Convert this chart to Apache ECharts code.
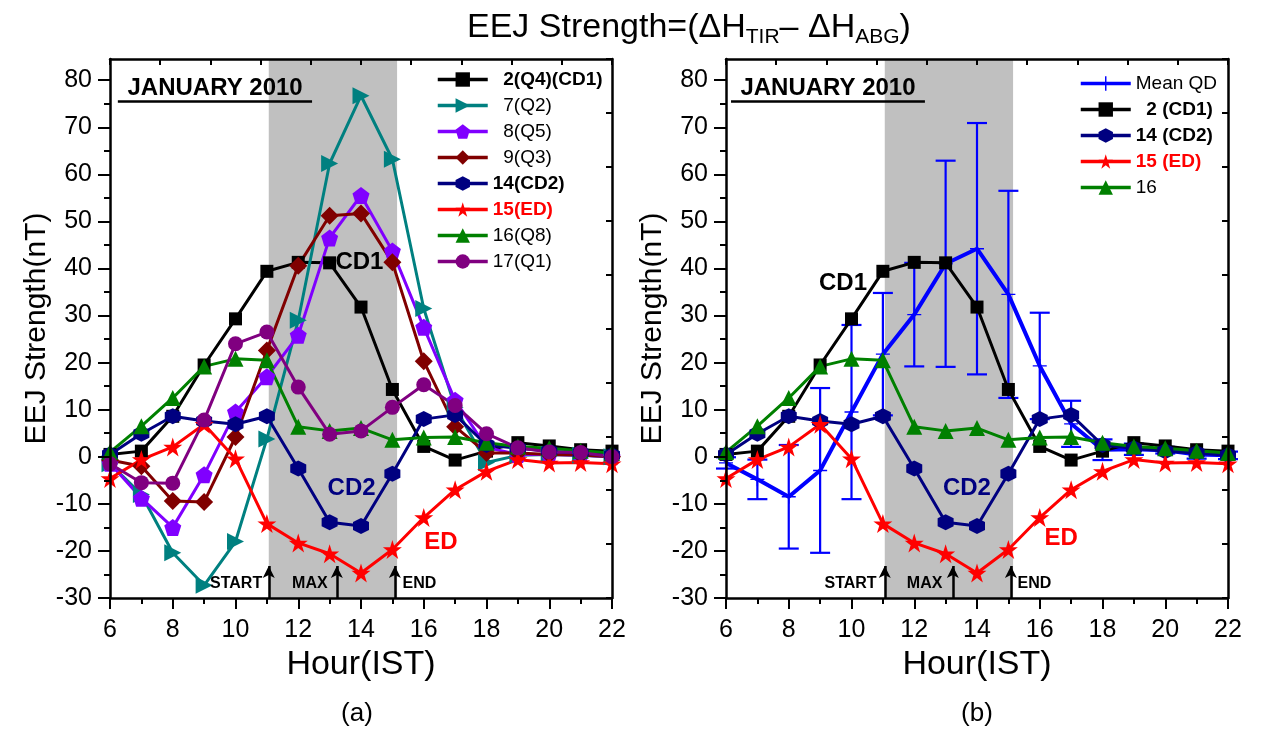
<!DOCTYPE html>
<html><head><meta charset="utf-8">
<script src="https://cdn.jsdelivr.net/npm/echarts@6/dist/echarts.min.js"></script>
<style>html,body{margin:0;padding:0;background:#fff}#c{width:1262px;height:734px}</style>
</head><body><div id="c"></div>
<script>
// ---------- DATA ----------
const hours = [6,7,8,9,10,11,12,13,14,15,16,17,18,19,20,21,22];
const d2  = [0.5, 1.2, 8.6, 19.5, 29.3, 39.4, 41.3, 41.2, 31.8, 14.3, 2.2, -0.7, 1.2, 3.0, 2.3, 1.5, 1.2];
const d7  = [-1.5, -8.0, -20.4, -27.3, -18.0, 3.8, 29.0, 62.3, 76.7, 63.2, 31.5, 10.5, -1.2, 0.3, 0.5, 0.3, 0.0];
const d8  = [-1.4, -8.8, -15.0, -3.8, 9.5, 17.0, 25.8, 46.5, 55.5, 43.7, 27.5, 12.0, 2.0, 0.5, 0.5, 0.3, 0.0];
const d9  = [-0.7, -2.0, -9.4, -9.6, 4.2, 22.6, 40.6, 51.2, 51.7, 41.3, 20.3, 6.4, 0.8, 0.8, 0.5, 0.4, 0.0];
const d14 = [0.5, 4.9, 8.6, 7.6, 6.9, 8.6, -2.5, -13.9, -14.7, -3.6, 8.0, 8.9, 2.5, 1.8, 1.2, 0.8, 0.3];
const d15 = [-4.6, -0.6, 2.1, 6.9, -0.4, -14.2, -18.3, -20.6, -24.7, -19.7, -12.9, -7.0, -3.1, -0.6, -1.3, -1.2, -1.5];
const d16 = [1.0, 6.5, 12.5, 19.2, 20.8, 20.5, 6.4, 5.5, 6.1, 3.6, 4.1, 4.2, 3.0, 2.2, 1.8, 1.3, 0.8];
const d17 = [-1.5, -5.5, -5.6, 7.8, 24.0, 26.5, 14.8, 4.8, 5.5, 10.5, 15.3, 10.9, 4.9, 1.9, 1.0, 0.9, 0.0];
const qdMean = [-1.3, -4.8, -8.5, -2.9, 9.5, 21.8, 30.2, 41.0, 44.2, 34.5, 19.3, 7.0, 1.5, 1.6, 1.4, 0.5, 0.3];
const qdErr  = [1.2, 4.2, 11.0, 17.5, 18.5, 13.0, 11.0, 21.9, 26.7, 22.0, 11.3, 4.9, 2.2, 1.2, 0.7, 0.9, 0.8];
const yMajorTicks = [-30,-20,-10,0,10,20,30,40,50,60,70,80];
const yMinorTicks = [-25,-15,-5,5,15,25,35,45,55,65,75];
const eventTimes = {start: 11.06, max: 13.23, end: 15.08};
const shade = [11.06, 15.15];

// ---------- STYLE HELPERS ----------
const FF = '"Liberation Sans", Arial, Helvetica, sans-serif';
const PENT = 'path://M0,-1 L0.951,-0.309 L0.588,0.809 L-0.588,0.809 L-0.951,-0.309 Z';
const HEX = 'path://M0,-1 L0.866,-0.5 L0.866,0.5 L0,1 L-0.866,0.5 L-0.866,-0.5 Z';
const STAR = 'path://M0,-1 L0.2245,-0.309 L0.951,-0.309 L0.363,0.118 L0.588,0.809 L0,0.382 L-0.588,0.809 L-0.363,0.118 L-0.951,-0.309 L-0.2245,-0.309 Z';
const PLUS = 'path://M-1,-0.1 L1,-0.1 L1,0.1 L-1,0.1 Z M-0.1,-1 L0.1,-1 L0.1,1 L-0.1,1 Z';

const pairs = a => hours.map((h, i) => [h, a[i]]);

function lineSeries(name, data, color, symbol, size, xi, yi, extra) {
  return Object.assign({
    type: 'line', name: name, data: pairs(data), xAxisIndex: xi, yAxisIndex: yi,
    symbol: symbol, symbolSize: size, showAllSymbol: true,
    lineStyle: {color: color, width: 3}, itemStyle: {color: color},
    z: 3
  }, extra || {});
}

function textMark(x, y, text, color, size) {
  return {coord: [x, y], symbol: 'circle', symbolSize: 1, itemStyle: {color: 'rgba(0,0,0,0)'},
    label: {show: true, position: 'inside', formatter: text, color: color, fontSize: size, fontWeight: 'bold', fontFamily: FF}};
}

function panelDecor(cfg) {
  return {
    markArea: {silent: true, itemStyle: {color: '#c0c0c0'}, data: [[{xAxis: shade[0]}, {xAxis: shade[1]}]]},
    markLine: {
      silent: true, animation: false, label: {show: false},
      data: [
        [{coord: [eventTimes.start, -30], symbol: 'none'}, {coord: [eventTimes.start, -23.2], symbol: 'arrow', symbolSize: [9, 12]}],
        [{coord: [eventTimes.max, -30], symbol: 'none'}, {coord: [eventTimes.max, -23.2], symbol: 'arrow', symbolSize: [9, 12]}],
        [{coord: [eventTimes.end, -30], symbol: 'none'}, {coord: [eventTimes.end, -23.2], symbol: 'arrow', symbolSize: [9, 12]}],
        [{coord: [cfg.ulx0, 75.6], symbol: 'none'}, {coord: [cfg.ulx1, 75.6], symbol: 'none'}]
      ],
      lineStyle: {color: '#000', width: 2.5, type: 'solid'}
    },
    markPoint: {
      silent: true, animation: false,
      data: [
        textMark(cfg.janx, 78.3, 'JANUARY 2010', '#000', 24),
        textMark(cfg.startx, -26.9, 'START', '#000', 16),
        textMark(cfg.maxx, -26.9, 'MAX', '#000', 16),
        textMark(cfg.endx, -26.9, 'END', '#000', 16)
      ]
    }
  };
}

function yAxes(grid) {
  return [
    {type: 'value', gridIndex: grid, position: 'left', min: -30, max: 84.5, z: 5,
     axisLine: {show: true, onZero: false, lineStyle: {color: '#000', width: 2.5}},
     axisTick: {show: true, customValues: yMajorTicks, length: 12, lineStyle: {color: '#000', width: 2}},
     axisLabel: {customValues: yMajorTicks, fontSize: 25, color: '#000', fontFamily: FF, margin: 18},
     splitLine: {show: false},
     name: 'EEJ Strength(nT)', nameLocation: 'middle', nameGap: 58,
     nameTextStyle: {fontSize: 30, color: '#000', fontFamily: FF}},
    {type: 'value', gridIndex: grid, position: 'left', offset: 0, min: -30, max: 84.5, z: 5,
     axisLine: {show: false},
     axisTick: {show: true, customValues: yMinorTicks, length: 6, lineStyle: {color: '#000', width: 2}},
     axisLabel: {show: false}, splitLine: {show: false}},
    {type: 'value', gridIndex: grid, position: 'right', min: 0, max: 10, interval: 1, z: 5,
     axisLine: {show: true, lineStyle: {color: '#000', width: 2.5}},
     axisTick: {show: true, inside: true, length: 6, lineStyle: {color: '#000', width: 2}},
     axisLabel: {show: false}, splitLine: {show: false}}
  ];
}
function xAxes(grid) {
  return [
    {type: 'value', gridIndex: grid, position: 'bottom', min: 6, max: 22, interval: 2, z: 5,
     axisLine: {show: true, onZero: false, lineStyle: {color: '#000', width: 2.5}},
     axisTick: {show: true, length: 11, lineStyle: {color: '#000', width: 2}},
     minorTick: {show: true, splitNumber: 2, length: 6, lineStyle: {color: '#000', width: 2}},
     axisLabel: {fontSize: 25, color: '#000', fontFamily: FF, margin: 20},
     splitLine: {show: false},
     name: 'Hour(IST)', nameLocation: 'middle', nameGap: 49,
     nameTextStyle: {fontSize: 34, color: '#000', fontFamily: FF}},
    {type: 'value', gridIndex: grid, position: 'top', min: 0, max: 10, interval: 1, z: 5,
     axisLine: {show: true, onZero: false, lineStyle: {color: '#000', width: 2.5}},
     axisTick: {show: true, inside: true, length: 6, lineStyle: {color: '#000', width: 2}},
     axisLabel: {show: false}, splitLine: {show: false}}
  ];
}

// ---------- SERIES ----------
const L = {xi: 0, yi: 0};
const R = {xi: 2, yi: 3};

const leftSeries = [
  lineSeries('2(Q4)(CD1)', d2, '#000000', 'rect', 13, L.xi, L.yi,
    panelDecor({ulx0: 6.25, ulx1: 12.44, janx: 9.35, startx: 10.02, maxx: 12.37, endx: 15.86})),
  lineSeries('7(Q2)', d7, '#008080', 'triangle', 17, L.xi, L.yi, {symbolRotate: -90}),
  lineSeries('8(Q5)', d8, '#8000ff', PENT, 17, L.xi, L.yi),
  lineSeries('9(Q3)', d9, '#800000', 'diamond', 18, L.xi, L.yi),
  lineSeries('14(CD2)', d14, '#000080', HEX, 16, L.xi, L.yi),
  lineSeries('15(ED)', d15, '#ff0000', STAR, 19, L.xi, L.yi),
  lineSeries('16(Q8)', d16, '#008000', 'triangle', 16, L.xi, L.yi),
  lineSeries('17(Q1)', d17, '#800080', 'circle', 15, L.xi, L.yi)
];
leftSeries[0].markPoint.data.push(textMark(13.95, 41.3, 'CD1', '#000', 24));
leftSeries[4].markPoint = {silent: true, animation: false, data: [textMark(13.7, -6.7, 'CD2', '#000080', 24)]};
leftSeries[5].markPoint = {silent: true, animation: false, data: [textMark(16.55, -18.2, 'ED', '#ff0000', 24)]};

const qdSeries = lineSeries('Mean QD', qdMean, '#0000ff', PLUS, 14, R.xi, R.yi, Object.assign(
  panelDecor({ulx0: 6.16, ulx1: 12.34, janx: 9.25, startx: 9.97, maxx: 12.33, endx: 15.83}), {z: 2}));
qdSeries.lineStyle.width = 4;
qdSeries.markPoint.data.push(textMark(9.73, 36.8, 'CD1', '#000', 24));

const qdErrSeries = {
  type: 'custom', name: 'QD error', xAxisIndex: R.xi, yAxisIndex: R.yi, z: 2,
  data: hours.map((h, i) => [h, qdMean[i] - qdErr[i], qdMean[i] + qdErr[i]]),
  encode: {x: 0, y: [1, 2]},
  renderItem: function (params, api) {
    const x = api.value(0);
    const top = api.coord([x, api.value(2)]);
    const bot = api.coord([x, api.value(1)]);
    const hw = 10;
    const st = {stroke: '#0000ff', lineWidth: 2.2};
    return {type: 'group', children: [
      {type: 'line', shape: {x1: top[0], y1: top[1], x2: bot[0], y2: bot[1]}, style: st},
      {type: 'line', shape: {x1: top[0] - hw, y1: top[1], x2: top[0] + hw, y2: top[1]}, style: st},
      {type: 'line', shape: {x1: bot[0] - hw, y1: bot[1], x2: bot[0] + hw, y2: bot[1]}, style: st}
    ]};
  }
};

const rightSeries = [
  qdErrSeries,
  qdSeries,
  lineSeries('2 (CD1)', d2, '#000000', 'rect', 13, R.xi, R.yi),
  lineSeries('14 (CD2)', d14, '#000080', HEX, 16, R.xi, R.yi,
    {markPoint: {silent: true, animation: false, data: [textMark(13.68, -6.7, 'CD2', '#000080', 24)]}}),
  lineSeries('15 (ED)', d15, '#ff0000', STAR, 19, R.xi, R.yi,
    {markPoint: {silent: true, animation: false, data: [textMark(16.68, -17.4, 'ED', '#ff0000', 24)]}}),
  lineSeries('16', d16, '#008000', 'triangle', 16, R.xi, R.yi)
];

const legendLabels = {
  '2(Q4)(CD1)': '  2(Q4)(CD1)', '7(Q2)': '  7(Q2)', '8(Q5)': '  8(Q5)', '9(Q3)': '  9(Q3)',
  '2 (CD1)': '  2 (CD1)'
};

const legendBase = {
  orient: 'vertical', itemWidth: 50, itemHeight: 18, itemGap: 7,
  formatter: n => legendLabels[n] || n,
  lineStyle: {width: 3.5},
  textStyle: {fontSize: 19, color: '#000', fontFamily: FF}
};

const option = {
  animation: false,
  backgroundColor: '#fff',
  title: {
    text: '{m|EEJ Strength=(ΔH}{s|TIR}{m|– ΔH}{s|ABG}{m|)}',
    left: 462, top: 2,
    textStyle: {fontWeight: 'normal', rich: {
      m: {fontSize: 34, fontFamily: FF, color: '#000', fontWeight: 'normal'},
      s: {fontSize: 21, fontFamily: FF, color: '#000', fontWeight: 'normal', padding: [20, 0, 0, 0]}
    }}
  },
  grid: [
    {left: 110, top: 59, width: 502, height: 539},
    {left: 726, top: 59, width: 502, height: 539}
  ],
  xAxis: xAxes(0).concat(xAxes(1)),
  yAxis: yAxes(0).concat(yAxes(1)),
  legend: [
    Object.assign({}, legendBase, {left: 431, top: 65,
     data: [
       {name: '2(Q4)(CD1)', textStyle: {fontWeight: 'bold'}},
       '7(Q2)', '8(Q5)', '9(Q3)',
       {name: '14(CD2)', textStyle: {fontWeight: 'bold'}},
       {name: '15(ED)', textStyle: {fontWeight: 'bold', color: '#ff0000'}},
       '16(Q8)', '17(Q1)'
     ]}),
    Object.assign({}, legendBase, {left: 1074, top: 69,
     data: [
       'Mean QD',
       {name: '2 (CD1)', textStyle: {fontWeight: 'bold'}},
       {name: '14 (CD2)', textStyle: {fontWeight: 'bold'}},
       {name: '15 (ED)', textStyle: {fontWeight: 'bold', color: '#ff0000'}},
       '16'
     ]})
  ],
  graphic: [
    {type: 'text', x: 357, y: 714, style: {text: '(a)', fontSize: 26, fontFamily: FF, fill: '#000', align: 'center', verticalAlign: 'middle'}},
    {type: 'text', x: 977, y: 714, style: {text: '(b)', fontSize: 26, fontFamily: FF, fill: '#000', align: 'center', verticalAlign: 'middle'}}
  ],
  series: leftSeries.concat(rightSeries)
};

const chart = echarts.init(document.getElementById('c'), null, {renderer: 'canvas'});
chart.setOption(option);
</script>
</body></html>
